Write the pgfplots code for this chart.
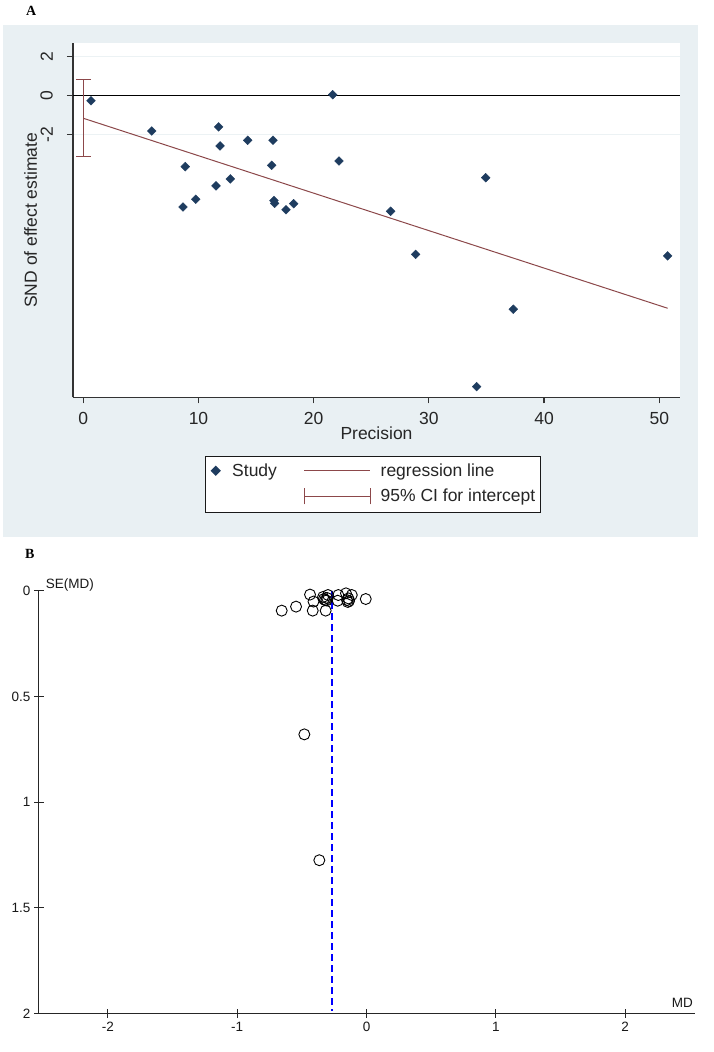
\documentclass[border=0pt]{standalone}
\usepackage{fontspec}
\setmainfont{Liberation Sans}
\newfontfamily\timesfont{Liberation Serif}
\usepackage{pgfplots}
\pgfplotsset{compat=1.18}
\definecolor{stbg}{RGB}{233,240,243}
\definecolor{stgrid}{RGB}{236,242,244}
\definecolor{stnavy}{RGB}{30,60,95}
\definecolor{stmaroon}{RGB}{140,72,74}
\newcommand{\fA}{\fontsize{17.5}{20}\selectfont}
\newcommand{\fB}{\fontsize{13.5}{15}\selectfont}
\begin{document}
\begin{tikzpicture}[x=1pt,y=1pt]
\useasboundingbox (0pt,0pt) rectangle (713pt,1052pt);
\fill[white] (0pt,0pt) rectangle (713pt,1052pt);
\fill[stbg] (3pt,515.3pt) rectangle (698.3pt,1027pt);
\node[anchor=base west, inner sep=0, font=\timesfont\bfseries\fontsize{14}{16}\selectfont] at (26pt,1036pt) {A};
\node[anchor=base west, inner sep=0, font=\timesfont\bfseries\fontsize{14}{16}\selectfont] at (25pt,493.7pt) {B};

% ---------------- Panel A ----------------
\begin{axis}[
  at={(73pt,654.5pt)}, anchor=south west, scale only axis,
  width=607pt, height=354.2pt,
  xmin=-0.894, xmax=51.80, ymin=-15.57, ymax=2.69,
  axis lines=left, axis line style={-, black!80, line width=1.6pt},
  axis background/.style={fill=white},
  tick align=outside, major tick length=6pt,
  tick style={black!80, line width=1.2pt},
  xtick={0,10,20,30,40,50},
  xticklabels={0,10,20,30,40,50},
  ytick={-2,0,2}, yticklabels={-2,0,2},
  xticklabel style={font=\fA, text=black!85, anchor=north, inner sep=0pt, inner ysep=8.5pt},
  yticklabel style={font=\fA, text=black!85, rotate=90, anchor=south, inner sep=0pt, inner ysep=14pt},
  ymajorgrids, grid style={stgrid, line width=0.8pt},
  xlabel={Precision},
  xlabel style={font=\fA, text=black!85, at={(axis description cs:0.5,-0.0833)}, anchor=north, inner sep=0pt},
  ylabel={SND of effect estimate},
  ylabel style={font=\fA, text=black!85, at={(axis description cs:-0.070,0.5)}, anchor=center, inner sep=0pt},
  legend columns=2,
  legend cell align=left,
  legend style={at={(0.2175,-0.1643)}, anchor=north west,
    draw=black!90, line width=1pt, fill=white, font=\fA, text=black!85,
    inner xsep=5.5pt, inner ysep=7.5pt, row sep=10pt,
    nodes={inner sep=0pt},
    /tikz/every odd column/.append style={column sep=9.7pt},
    /tikz/every even column/.append style={column sep=27pt}},
]
\addplot[black, line width=1.6pt, forget plot] coordinates {(-0.894,0) (51.80,0)};
\addplot[only marks, mark=square*, mark size=3.1pt,
  mark options={rotate=45, fill=stnavy, draw=stnavy},
  legend image code/.code={\path[mark=square*, mark size=3.1pt, mark options={rotate=45, fill=stnavy, draw=stnavy}] plot coordinates {(4.25pt,0pt)}; \path (0pt,0pt) (10.5pt,0pt);}]
  table[row sep=\\] {
  x y \\
  0.67 -0.27 \\
  5.94 -1.83 \\
  11.75 -1.62 \\
  11.87 -2.60 \\
  8.85 -3.67 \\
  11.52 -4.66 \\
  12.76 -4.30 \\
  14.27 -2.31 \\
  16.47 -2.31 \\
  16.35 -3.60 \\
  21.65 0.04 \\
  22.20 -3.38 \\
  8.65 -5.75 \\
  9.76 -5.35 \\
  16.55 -5.42 \\
  16.61 -5.56 \\
  17.60 -5.89 \\
  18.26 -5.58 \\
  34.93 -4.24 \\
  26.68 -5.97 \\
  28.85 -8.19 \\
  50.73 -8.27 \\
  37.33 -11.02 \\
  34.15 -15.01 \\
  };
\addlegendentry{Study}
\addplot[stmaroon, line width=1pt,
  legend image code/.code={\draw[stmaroon, line width=1pt] (0pt,0pt) -- (66pt,0pt);}]
  coordinates {(0,-1.175) (50.73,-10.97)};
\addlegendentry{regression line}
\addlegendimage{empty legend}
\addlegendentry{}
\addplot[stmaroon, line width=1pt, mark=-, mark size=7.6pt, mark options={solid},
  legend image code/.code={\draw[stmaroon, line width=1pt] (0pt,0pt) -- (66pt,0pt) (0pt,-8pt) -- (0pt,8pt) (66pt,-8pt) -- (66pt,8pt);}]
  coordinates {(0,0.80) (0,-3.15)};
\addlegendentry{95\% CI for intercept}
\end{axis}

% ---------------- Panel B ----------------
\begin{axis}[
  at={(39pt,38.7pt)}, anchor=south west, scale only axis,
  width=655.7pt, height=422.3pt,
  xmin=-2.533, xmax=2.538, ymin=0, ymax=2, y dir=reverse,
  axis x line*=bottom, axis y line*=left,
  axis line style={-, black!85, line width=1pt},
  tick align=center, major tick length=9pt,
  tick style={black!85, line width=1pt},
  xtick={-2,-1,0,1,2}, xticklabels={-2,-1,0,1,2},
  ytick={0,0.5,1,1.5,2}, yticklabels={0,0.5,1,1.5,2},
  xticklabel style={font=\fB, text=black!90, anchor=north, inner sep=0pt, inner ysep=4pt},
  yticklabel style={font=\fB, text=black!90, anchor=east, inner sep=0pt, inner xsep=4pt},
  xlabel={MD},
  xlabel style={font=\fB, text=black!90, at={(axis description cs:1,0)}, anchor=base east, inner sep=0pt, xshift=-1.7pt, yshift=6.3pt},
  ylabel={SE(MD)},
  ylabel style={font=\fB, text=black!90, rotate=-90, at={(axis description cs:0,1)}, anchor=base west, inner sep=0pt, xshift=6.7pt, yshift=2.7pt},
  clip=false,
]
\addplot[blue, line width=1.6pt, dash pattern=on 7pt off 4pt, mark=none] coordinates {(-0.269,0) (-0.269,1.99)};
\addplot[only marks, mark=o, mark size=5.5pt, mark options={black, line width=0.9pt}]
  table[row sep=\\] {
  x y \\
  -0.656 0.093 \\
  -0.545 0.074 \\
  -0.437 0.017 \\
  -0.416 0.093 \\
  -0.410 0.050 \\
  -0.316 0.093 \\
  -0.336 0.028 \\
  -0.321 0.043 \\
  -0.305 0.033 \\
  -0.298 0.019 \\
  -0.330 0.038 \\
  -0.310 0.045 \\
  -0.218 0.019 \\
  -0.223 0.046 \\
  -0.159 0.011 \\
  -0.151 0.043 \\
  -0.135 0.047 \\
  -0.140 0.035 \\
  -0.145 0.052 \\
  -0.114 0.019 \\
  -0.006 0.038 \\
  -0.481 0.679 \\
  -0.365 1.275 \\
  };
\end{axis}
\end{tikzpicture}
\end{document}
